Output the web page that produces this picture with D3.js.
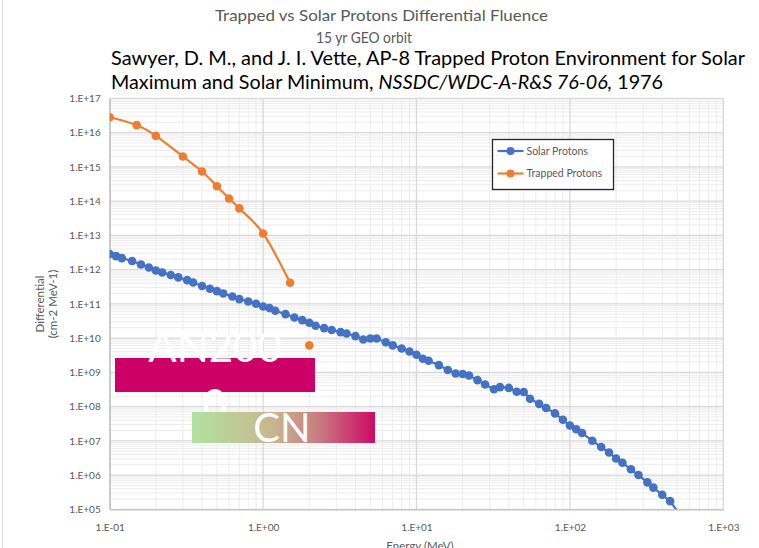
<!DOCTYPE html>
<html>
<head>
<meta charset="utf-8">
<script src="https://cdn.jsdelivr.net/npm/d3@7"></script>
<style>
  html, body { margin: 0; padding: 0; background: #fff; }
  svg { display: block; }
  text { font-family: Lato, "Open Sans", sans-serif; }
</style>
</head>
<body>
<svg id="chart" width="759" height="548"></svg>
<script>
// Solar proton differential fluence, 15 yr GEO orbit (MeV, cm-2 MeV-1)
const solarEnergy = [0.1,0.11,0.12,0.14,0.16,0.18,0.2,0.22,0.25,0.28,
  0.32,0.35,0.4,0.45,0.5,0.55,0.63,0.7,0.8,0.9,
  1.0,1.1,1.2,1.4,1.6,1.8,2.0,2.2,2.5,2.8,
  3.2,3.5,4.0,4.5,5.0,5.5,6.3,7.0,8.0,9.0,
  10,11,12,14,16,18,20,22,25,28,
  32,35,40,45,50,55,63,70,80,90,
  100,110,120,140,160,180,200,220,250,280,
  320,350,400,450,500];
const solarFluence = [2.83e12,2.47e12,2.16e12,1.77e12,1.40e12,1.15e12,9.4e11,8.2e11,6.9e11,5.9e11,
  4.9e11,4.2e11,3.3e11,2.74e11,2.35e11,2.0e11,1.63e11,1.37e11,1.17e11,1.0e11,
  8.3e10,7.5e10,6.25e10,5.0e10,4.0e10,3.34e10,2.79e10,2.28e10,1.95e10,1.71e10,
  1.49e10,1.36e10,1.14e10,9.1e9,9.7e9,9.7e9,7.5e9,6.1e9,4.95e9,4.05e9,
  3.24e9,2.48e9,2.17e9,1.62e9,1.17e9,9.2e8,8.9e8,8.1e8,5.9e8,4.4e8,
  3.2e8,3.7e8,3.5e8,2.7e8,2.66e8,1.68e8,1.2e8,9.1e7,6.3e7,4.1e7,
  2.8e7,2.17e7,1.69e7,1.0e7,6.6e6,4.55e6,3.04e6,2.28e6,1.47e6,1.0e6,
  6.1e5,4.3e5,2.65e5,1.73e5,9.0e4];

// Trapped proton differential fluence (AP-8); the last point stands apart from the curve
const trappedEnergy = [0.1,0.15,0.2,0.3,0.4,0.5,0.6,0.7,1.0,1.5,2.0];
const trappedFluence = [2.8e16,1.65e16,8.0e15,2.0e15,7.3e14,2.7e14,1.19e14,6.1e13,1.13e13,4.1e11,6.1e9];
const trappedJoined = 10; // number of leading points joined by the curve

const xTickValues = [0.1, 1, 10, 100, 1000];
const xTickLabels = ["1.E-01","1.E+00","1.E+01","1.E+02","1.E+03"];
const yTickValues = [1e5,1e6,1e7,1e8,1e9,1e10,1e11,1e12,1e13,1e14,1e15,1e16,1e17];
const yTickLabels = ["1.E+05","1.E+06","1.E+07","1.E+08","1.E+09","1.E+10","1.E+11",
  "1.E+12","1.E+13","1.E+14","1.E+15","1.E+16","1.E+17"];

const seriesNames = ["Solar Protons", "Trapped Protons"];
const seriesColors = ["#4472C4", "#ED7D31"];

const svg = d3.select("#chart");
const plot = { left: 109.7, right: 723.3, top: 98.3, bottom: 509.3 };

const x = d3.scaleLog().domain([0.1, 1000]).range([plot.left, plot.right]);
const y = d3.scaleLog().domain([1e5, 1e17]).range([plot.bottom, plot.top]);

// chart area edge
svg.append("line").attr("x1", 2.5).attr("x2", 2.5).attr("y1", 0).attr("y2", 548)
  .attr("stroke", "#d9d9d9").attr("stroke-width", 1);

// titles
svg.append("text").attr("x", 215).attr("y", 21).attr("fill", "#595959")
  .attr("font-size", 15).attr("textLength", 333).attr("lengthAdjust", "spacingAndGlyphs")
  .text("Trapped vs Solar Protons Differential Fluence");
svg.append("text").attr("x", 316).attr("y", 43).attr("fill", "#595959")
  .attr("font-size", 14.5).attr("textLength", 96).attr("lengthAdjust", "spacingAndGlyphs")
  .text("15 yr GEO orbit");
svg.append("text").attr("x", 111).attr("y", 64.5).attr("fill", "#000")
  .attr("font-size", 20).attr("textLength", 634).attr("lengthAdjust", "spacingAndGlyphs")
  .text("Sawyer, D. M., and J. I. Vette, AP-8 Trapped Proton Environment for Solar");
const cite2 = svg.append("text").attr("x", 111).attr("y", 88.5).attr("fill", "#000")
  .attr("font-size", 20).attr("textLength", 552).attr("lengthAdjust", "spacingAndGlyphs");
cite2.append("tspan").text("Maximum and Solar Minimum, ");
cite2.append("tspan").attr("font-style", "italic").text("NSSDC/WDC-A-R&S 76-06,");
cite2.append("tspan").text(" 1976");

// gridlines
const minorVals = (lo, hi) => {
  const out = [];
  for (let d = lo; d < hi; d *= 10) for (let k = 2; k <= 9; k++) out.push(d * k);
  return out;
};
const grid = svg.append("g");
grid.selectAll(".ymin").data(minorVals(1e5, 1e17)).join("line")
  .attr("x1", plot.left).attr("x2", plot.right)
  .attr("y1", d => y(d)).attr("y2", d => y(d))
  .attr("stroke", "#ececec").attr("stroke-width", 1);
grid.selectAll(".xmin").data(minorVals(0.1, 1000)).join("line")
  .attr("y1", plot.top).attr("y2", plot.bottom)
  .attr("x1", d => x(d)).attr("x2", d => x(d))
  .attr("stroke", "#ececec").attr("stroke-width", 1);
grid.selectAll(".ymaj").data(yTickValues).join("line")
  .attr("x1", plot.left).attr("x2", plot.right)
  .attr("y1", d => y(d)).attr("y2", d => y(d))
  .attr("stroke", "#d9d9d9").attr("stroke-width", 1.3);
grid.selectAll(".xmaj").data(xTickValues).join("line")
  .attr("y1", plot.top).attr("y2", plot.bottom)
  .attr("x1", d => x(d)).attr("x2", d => x(d))
  .attr("stroke", "#d9d9d9").attr("stroke-width", 1.3);

// axes
const xAxis = svg.append("g").attr("transform", `translate(0,${plot.bottom})`)
  .call(d3.axisBottom(x).tickValues(xTickValues).tickSize(0)
    .tickFormat((d, i) => xTickLabels[i]));
xAxis.select(".domain").attr("stroke", "#bfbfbf").attr("stroke-width", 1.3);
xAxis.selectAll("text").attr("fill", "#595959").attr("font-size", 10)
  .attr("font-family", "Lato, sans-serif").attr("dy", "1.05em").attr("y", 11);

const yAxis = svg.append("g").attr("transform", `translate(${plot.left},0)`)
  .call(d3.axisLeft(y).tickValues(yTickValues).tickSize(0)
    .tickFormat((d, i) => yTickLabels[i]));
yAxis.select(".domain").attr("stroke", "#bfbfbf").attr("stroke-width", 1.3);
yAxis.selectAll("text").attr("fill", "#595959").attr("font-size", 10)
  .attr("font-family", "Lato, sans-serif").attr("x", -9);

// axis titles (the x title runs off the bottom edge of the chart area)
svg.append("text").attr("x", 420).attr("y", 550).attr("text-anchor", "middle")
  .attr("fill", "#595959").attr("font-size", 11.5).text("Energy (MeV)");
const yTitle = svg.append("text").attr("transform", "translate(44,304) rotate(-90)")
  .attr("text-anchor", "middle").attr("fill", "#595959").attr("font-size", 11.5);
yTitle.append("tspan").attr("x", 0).attr("dy", 0).text("Differential");
yTitle.append("tspan").attr("x", 0).attr("dy", 13).text("(cm-2 MeV-1)");

// data
svg.append("clipPath").attr("id", "plotClip").append("rect")
  .attr("x", plot.left).attr("y", plot.top)
  .attr("width", plot.right - plot.left).attr("height", plot.bottom - plot.top);

const solar = solarEnergy.map((e, i) => ({ e, v: solarFluence[i] }));
const trapped = trappedEnergy.map((e, i) => ({ e, v: trappedFluence[i] }));
const inDomain = d => d.v >= 1e5 && d.v <= 1e17;

const data = svg.append("g").attr("clip-path", "url(#plotClip)");

data.append("path").datum(solar)
  .attr("d", d3.line().x(d => x(d.e)).y(d => y(d.v)))
  .attr("fill", "none").attr("stroke", seriesColors[0]).attr("stroke-width", 2.2);
data.selectAll(".sp").data(solar.filter(inDomain)).join("circle")
  .attr("cx", d => x(d.e)).attr("cy", d => y(d.v)).attr("r", 4.3)
  .attr("fill", seriesColors[0]);

data.append("path").datum(trapped.slice(0, trappedJoined))
  .attr("d", d3.line().curve(d3.curveCatmullRom.alpha(0)).x(d => x(d.e)).y(d => y(d.v)))
  .attr("fill", "none").attr("stroke", seriesColors[1]).attr("stroke-width", 2.2);
data.selectAll(".tp").data(trapped.filter(inDomain)).join("circle")
  .attr("cx", d => x(d.e)).attr("cy", d => y(d.v)).attr("r", 4.3)
  .attr("fill", seriesColors[1]);

// legend
const legend = svg.append("g").attr("transform", "translate(492.5,139.5)");
legend.append("rect").attr("width", 121).attr("height", 50)
  .attr("fill", "#fff").attr("stroke", "#262626").attr("stroke-width", 1.3);
seriesNames.forEach((name, i) => {
  const row = legend.append("g").attr("transform", `translate(0,${11.5 + i * 22.5})`);
  row.append("line").attr("x1", 5).attr("x2", 31).attr("stroke", seriesColors[i]).attr("stroke-width", 2.2);
  row.append("circle").attr("cx", 18).attr("r", 4).attr("fill", seriesColors[i]);
  row.append("text").attr("x", 34).attr("y", 3.5).attr("fill", "#595959")
    .attr("font-size", 10.5).text(name);
});

// stamp boxes
const stamp = svg.append("g");
stamp.append("rect").attr("x", 115).attr("y", 358).attr("width", 200).attr("height", 34)
  .attr("fill", "#CC0066");
const stampText = stamp.append("text").attr("fill", "#fff")
  .attr("font-family", "'Liberation Sans', Arial, sans-serif").attr("font-size", 42)
  .attr("text-anchor", "middle");
stampText.append("tspan").attr("x", 215).attr("y", 362).text("AN200");
stampText.append("tspan").attr("x", 215).attr("y", 420).text("0");

const grad = svg.append("defs").append("linearGradient").attr("id", "cnGrad")
  .attr("x1", "0%").attr("x2", "100%").attr("y1", "0%").attr("y2", "0%");
[["0%", "#b1e29f"], ["45%", "#c8b58f"], ["70%", "#c9797f"], ["100%", "#cc0a66"]]
  .forEach(([o, c]) => grad.append("stop").attr("offset", o).attr("stop-color", c));
stamp.append("rect").attr("x", 192).attr("y", 412).attr("width", 183).attr("height", 31)
  .attr("fill", "url(#cnGrad)");
stamp.append("text").attr("x", 282).attr("y", 442).attr("fill", "#fff")
  .attr("font-family", "'Liberation Sans', Arial, sans-serif").attr("font-size", 40)
  .attr("text-anchor", "middle").text("CN");
</script>
</body>
</html>
